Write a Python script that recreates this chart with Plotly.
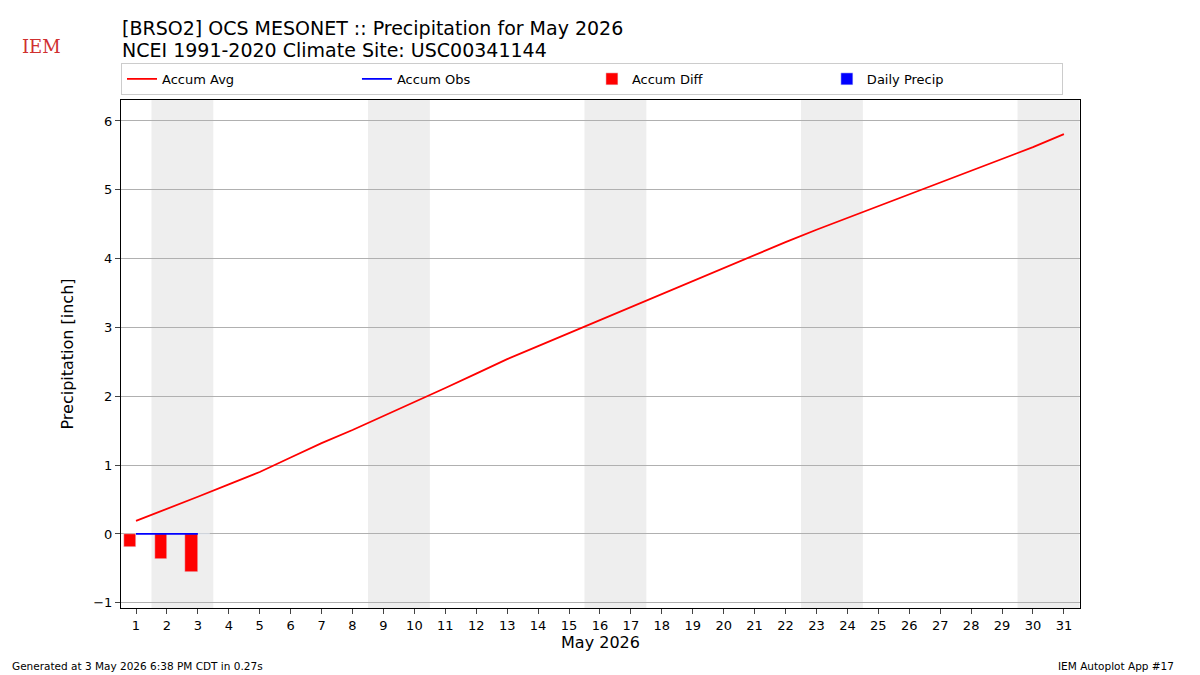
import plotly.graph_objects as go

days = list(range(1, 32))
accum_avg = [0.19, 0.36, 0.54, 0.72, 0.90, 1.11, 1.32, 1.51, 1.71, 1.91, 2.12, 2.33, 2.54, 2.73, 2.92,
             3.11, 3.30, 3.49, 3.68, 3.87, 4.05, 4.24, 4.42, 4.59, 4.76, 4.93, 5.10, 5.27, 5.44, 5.62, 5.81]
obs_days = [1, 2, 3]
accum_obs = [0.0, 0.0, 0.0]
accum_diff = [-0.19, -0.37, -0.56]
daily_precip = [0.0, 0.0, 0.0]
weekends = [(1.5, 3.5), (8.5, 10.5), (15.5, 17.5), (22.5, 24.5), (29.5, 31.5)]

fig = go.Figure()
fig.add_trace(go.Scatter(x=days, y=accum_avg, mode="lines", name="Accum Avg", line=dict(color="red", width=1.8)))
fig.add_trace(go.Scatter(x=obs_days, y=accum_obs, mode="lines", name="Accum Obs", line=dict(color="blue", width=1.8)))
fig.add_trace(go.Bar(x=[d - 0.2 for d in obs_days], y=accum_diff, width=0.4, name="Accum Diff", marker_color="red"))
fig.add_trace(go.Bar(x=[d + 0.2 for d in obs_days], y=daily_precip, width=0.4, name="Daily Precip", marker_color="blue"))

for x0, x1 in weekends:
    fig.add_vrect(x0=x0, x1=x1, fillcolor="#eeeeee", line_width=0, layer="below")

# page body has an 8px margin on left/top
fig.update_layout(
    width=1192, height=667, plot_bgcolor="white", paper_bgcolor="white",
    font=dict(family="DejaVu Sans", size=13, color="black"),
    margin=dict(l=113, r=120, t=92, b=67, autoexpand=False),
    barmode="overlay", bargap=0,
    legend=dict(orientation="h", x=0, y=1.01, xanchor="left", yanchor="bottom", entrywidth=0.245,
                entrywidthmode="fraction", bordercolor="#cccccc", borderwidth=1, font=dict(size=13)),
    xaxis=dict(range=[0.515, 31.52], tickmode="array", tickvals=days, ticks="outside", showgrid=False,
               showline=True, linecolor="black", mirror=True, zeroline=False,
               title=dict(text="May 2026", font=dict(size=16), standoff=5)),
    yaxis=dict(range=[-1.076, 6.305], dtick=1, ticks="outside", showgrid=True, gridcolor="#b0b0b0",
               showline=True, linecolor="black", mirror=True, zeroline=False,
               title=dict(text="Precipitation [inch]", font=dict(size=16))),
)
for txt, yy in [("[BRSO2] OCS MESONET :: Precipitation for May 2026", 1.142),
                ("NCEI 1991-2020 Climate Site: USC00341144", 1.098)]:
    fig.add_annotation(text=txt, x=-0.001, y=yy, xref="paper", yref="paper", showarrow=False,
                       xanchor="left", yanchor="middle", font=dict(size=19))
fig.add_annotation(text="IEM", x=-0.105, y=1.13, xref="paper", yref="paper", showarrow=False,
                   xanchor="left", font=dict(family="DejaVu Serif", size=18, color="#d03030"))
fig.add_annotation(text="Generated at 3 May 2026 6:38 PM CDT in 0.27s", x=-0.116, y=-0.114, xref="paper", yref="paper",
                   showarrow=False, xanchor="left", yanchor="middle", font=dict(size=10.5))
fig.add_annotation(text="IEM Autoplot App #17", x=1.1, y=-0.114, xref="paper", yref="paper",
                   showarrow=False, xanchor="right", yanchor="middle", font=dict(size=10.5))
fig.write_html("out.html")
